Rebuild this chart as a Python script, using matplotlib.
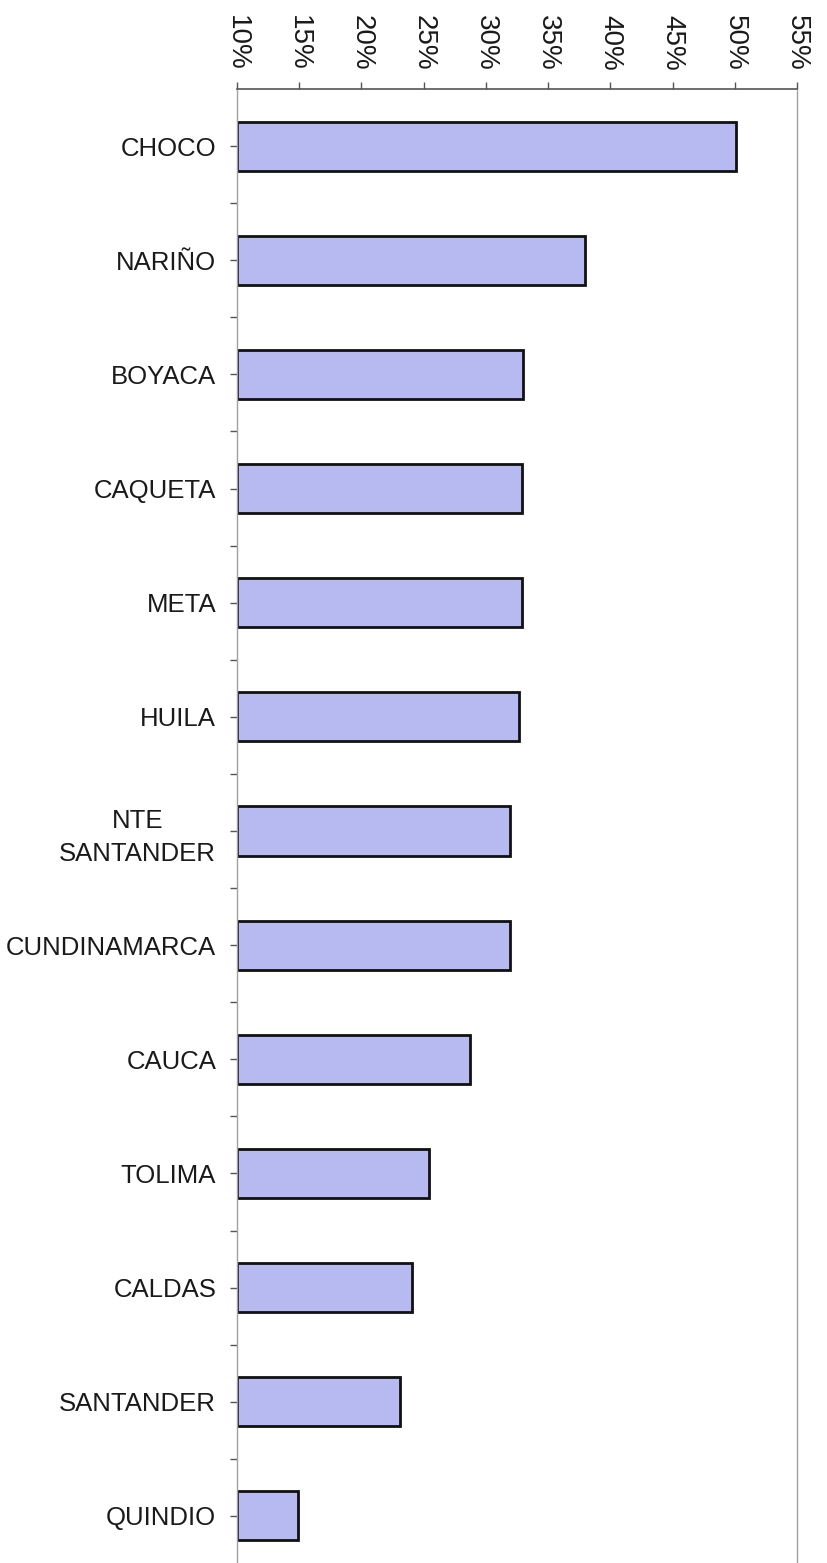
import matplotlib
matplotlib.use('Agg')
import matplotlib.pyplot as plt
from matplotlib.ticker import FixedLocator

# departments, top to bottom
departments = ['CHOCO', 'NARIÑO', 'BOYACA', 'CAQUETA', 'META', 'HUILA',
               'NTE\nSANTANDER', 'CUNDINAMARCA', 'CAUCA', 'TOLIMA',
               'CALDAS', 'SANTANDER', 'QUINDIO']
# share (%)
values = [50.1, 38.0, 33.0, 32.9, 32.9, 32.7, 31.9, 31.9, 28.7, 25.4,
          24.1, 23.1, 14.9]
xticks = [10, 15, 20, 25, 30, 35, 40, 45, 50, 55]
xlabels = ['%d%%' % t for t in xticks]

plt.rcParams['font.family'] = ['Liberation Sans', 'DejaVu Sans']

W, H = 828, 1563
fig = plt.figure(figsize=(W / 100, H / 100), dpi=100)
ax = fig.add_axes([237 / W, (H - 1573) / H, 560 / W, 1484 / H])

pos = list(range(len(departments)))
ax.barh(pos, [v - 10 for v in values], left=10, height=0.43,
        color='#b6baf0', edgecolor='#111111', linewidth=2)

ax.set_xlim(10, 55)
ax.set_ylim(len(departments) - 0.5, -0.5)

ax.xaxis.tick_top()
ax.set_xticks(xticks)
ax.set_xticklabels(xlabels, rotation=-90, fontsize=20, color='#1a1a1a')
ax.tick_params(axis='x', direction='out', length=5, width=1, color='#555555', pad=8)

ax.set_yticks(pos)
ax.set_yticklabels(departments, fontsize=18.5, color='#1a1a1a')
for t in ax.get_yticklabels():
    t.set_multialignment('center')
    t.set_linespacing(1.45)
ax.yaxis.set_minor_locator(FixedLocator([p + 0.5 for p in pos[:-1]]))
ax.tick_params(axis='y', which='both', direction='out', length=5, width=1,
               color='#555555', pad=10)

ax.spines['top'].set_color('#555555')
ax.spines['top'].set_linewidth(1.2)
for s in ['left', 'right']:
    ax.spines[s].set_color('#a0a0a0')
    ax.spines[s].set_linestyle((0, (1, 1)))
    ax.spines[s].set_linewidth(1)
ax.spines['bottom'].set_visible(False)

fig.savefig('out.png', dpi=100)
